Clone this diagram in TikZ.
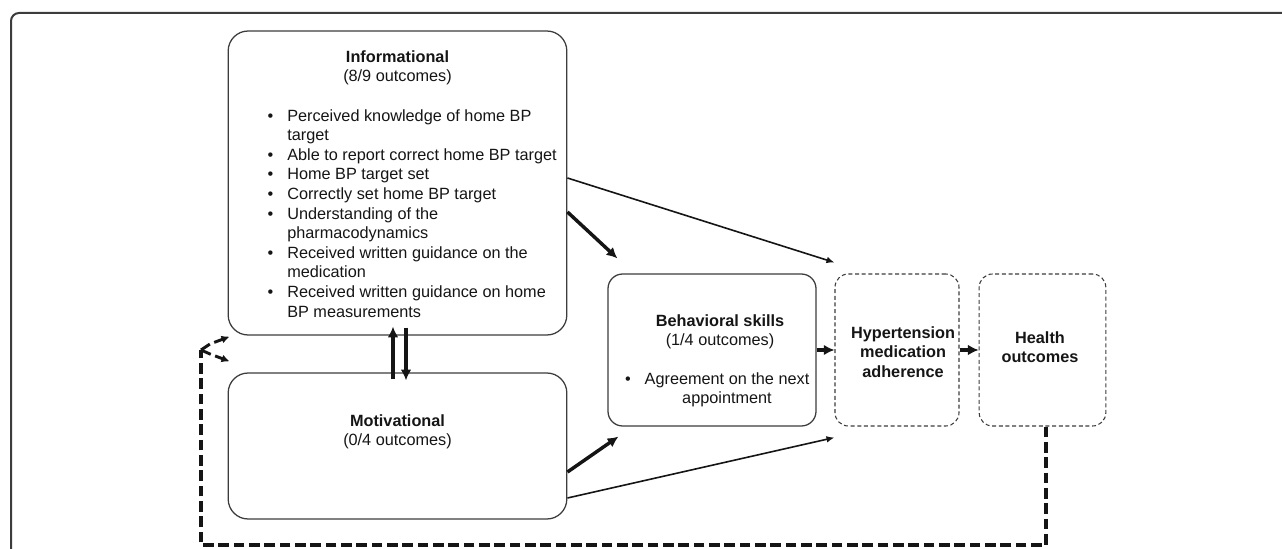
\documentclass[tikz,border=0pt]{standalone}
\usepackage{fontspec}
\setmainfont{Liberation Sans}
\usetikzlibrary{arrows.meta}
\definecolor{boxgray}{HTML}{3C3C3C}
\definecolor{inkblack}{HTML}{151515}
\newcommand{\bul}{\llap{\textbullet\hspace{10.5pt}}}
\tikzset{
  box/.style={draw=boxgray, line width=0.95pt, rounded corners=15pt, inner sep=0pt},
  dashbox/.style={box, line width=0.8pt, dash pattern=on 3pt off 2pt, rounded corners=10pt},
  txt/.style={inner sep=0pt, text=inkblack, font=\fontsize{12.2}{14.7}\selectfont},
  thin arrow/.style={draw=inkblack, line width=1.2pt, -{Latex[length=6pt,width=5pt]}},
  thick arrow/.style={draw=inkblack, line width=2.6pt, -{Latex[length=8pt,width=8pt]}},
  feedback/.style={draw=inkblack, line width=3pt, dash pattern=on 8pt off 3.5pt},
}
\begin{document}
\begin{tikzpicture}[x=0.75pt, y=-0.75pt]
    \useasboundingbox (0,0) rectangle (1282,549);
    % outer frame
    \draw[boxgray, line width=1.5pt, rounded corners=6pt] (11,570) -- (11,13) -- (1300,13);
    % boxes
    \node[box, minimum width=254pt, minimum height=228pt] (info) at (397.5,183) {};
    \node[box, minimum width=254pt, minimum height=109.5pt] (motiv) at (397.5,446) {};
    \node[box, minimum width=156pt, minimum height=114pt, rounded corners=11pt] (behav) at (712,350) {};
    \node[dashbox, minimum width=93pt, minimum height=114pt] (adher) at (897,350) {};
    \node[dashbox, minimum width=95pt, minimum height=114pt] (health) at (1042.5,350) {};
    % texts
    \node[txt, anchor=north, align=center] (infotitle) at (397.5,50) {\textbf{Informational}\\(8/9 outcomes)};
    \node[txt, anchor=north west, align=left] (infolist) at (287,109) {\bul Perceived knowledge of home BP\\target\\
        \bul Able to report correct home BP target\\\bul Home BP target set\\\bul Correctly set home BP target\\
        \bul Understanding of the\\pharmacodynamics\\\bul Received written guidance on the\\medication\\
        \bul Received written guidance on home\\BP measurements};
    \node[txt, anchor=north, align=center] (motivtitle) at (397.5,414) {\textbf{Motivational}\\(0/4 outcomes)};
    \node[txt, anchor=north, align=center] (behavtitle) at (720,314) {\textbf{Behavioral skills}\\(1/4 outcomes)};
    \node[txt, anchor=north, align=center] (behavlist) at (727,372) {\bul Agreement on the next\\appointment};
    \node[txt, anchor=north, align=center, font=\fontsize{12.2}{14.7}\selectfont\bfseries] (adhertext) at (903,326) {Hypertension\\medication\\adherence};
    \node[txt, anchor=north, align=center, font=\fontsize{12.2}{14.7}\selectfont\bfseries] (healthtext) at (1040,331) {Health\\outcomes};
    % connectors
    \draw[thin arrow] ([shift={(0,-5)}]info.east) -- ([shift={(0,-11)}]adher.north west);
    \draw[thick arrow] ([shift={(0,29)}]info.east) -- ([shift={(10,-15)}]behav.north west);
    \draw[thick arrow] ([shift={(0,26)}]motiv.east) -- ([shift={(11,10)}]behav.south west);
    \draw[thin arrow] ([shift={(0,52)}]motiv.east) -- ([shift={(0,11)}]adher.south west);
    \draw[thick arrow] (behav) -- (adher);
    \draw[thick arrow] (adher) -- (health);
    \draw[thick arrow] ([shift={(-4.5,7)}]motiv.north) -- ([shift={(-4.5,-9)}]info.south);
    \draw[thick arrow] ([shift={(8.5,-8)}]info.south) -- ([shift={(8.5,8)}]motiv.north);
    % feedback loop
    \coordinate (loopcorner) at (201,545);
    \coordinate (split) at (201,350);
    \draw[feedback] ([shift={(3.5,0)}]health.south) |- (loopcorner) -- (split);
    \draw[feedback, line width=2.2pt, -{Latex[length=6pt,width=6pt]}] (split) -- (210,344) -- ([shift={(2,1)}]info.south west);
    \draw[feedback, line width=2.2pt, -{Latex[length=6pt,width=6pt]}] (split) -- (210,354) -- ([shift={(2,-11)}]motiv.north west);
\end{tikzpicture}
\end{document}
